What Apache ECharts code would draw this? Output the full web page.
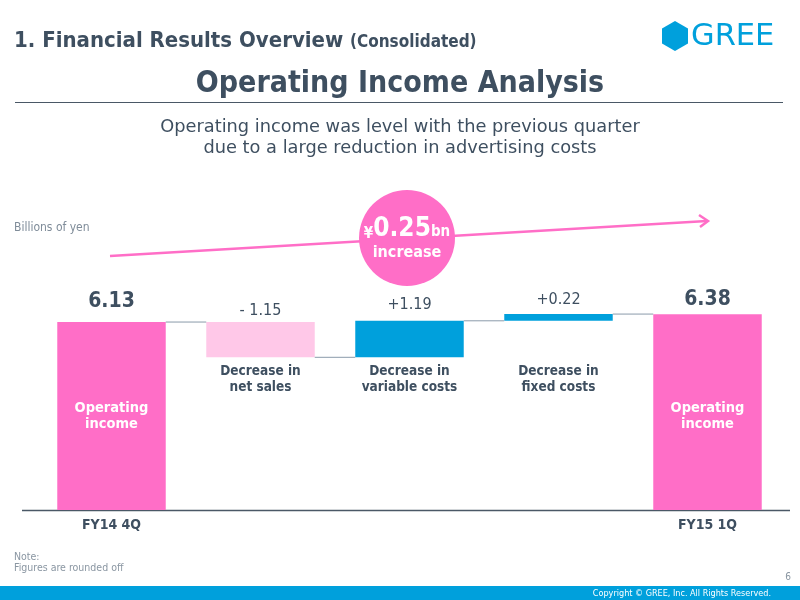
<!DOCTYPE html>
<html><head><meta charset="utf-8">
<script src="https://cdn.jsdelivr.net/npm/echarts@6/dist/echarts.min.js"></script>
<style>html,body{margin:0;padding:0;background:#fff}#c{width:800px;height:600px}</style>
</head><body><div id="c"></div>
<script>
// ---- data ----
const axisLabels = ['FY14 4Q', '', '', '', 'FY15 1Q'];
const stepNames = ['Operating\nincome', 'Decrease in\nnet sales', 'Decrease in\nvariable costs', 'Decrease in\nfixed costs', 'Operating\nincome'];
const changes = [6.13, -1.15, 1.19, 0.22, 6.38];
const isTotal = [true, false, false, false, true];
const valueLabels = ['6.13', '- 1.15', '+1.19', '+0.22', '6.38'];
const barColors = ['#FF6EC7', '#FFC8E8', '#00A0DC', '#00A0DC', '#FF6EC7'];

// ---- derived waterfall ----
const base = [], height = [], endLevel = [];
let level = 0;
changes.forEach((v, i) => {
  if (isTotal[i]) { base.push(0); height.push(v); level = v; }
  else {
    if (v < 0) { base.push(level + v); height.push(-v); }
    else { base.push(level); height.push(v); }
    level += v;
  }
  endLevel.push(level);
});
const connectorData = [0, 1, 2, 3].map(i => [i, endLevel[i]]);

const DARK = '#3E4F60';
const FONT = '"DejaVu Sans Condensed","DejaVu Sans",sans-serif';
const FONT2 = '"DejaVu Sans",sans-serif';
const BW = 0.728;
const labelDist = [10, 3, 8, 6, 4];
const innerLevel = 3.06, stepLevel = 4.27;

const chart = echarts.init(document.getElementById('c'));
chart.setOption({
  animation: false,
  grid: { left: 37, right: 18, top: 264.7, bottom: 90, containLabel: false },
  xAxis: {
    type: 'category', data: axisLabels,
    axisLine: { show: false }, axisTick: { show: false },
    axisLabel: { color: DARK, fontFamily: FONT, fontWeight: 'bold', fontSize: 14, margin: 8 }
  },
  yAxis: { type: 'value', min: 0, max: 8, show: false, splitLine: { show: false } },
  series: [
    { type: 'bar', stack: 'w', barWidth: (BW * 100) + '%', data: base,
      itemStyle: { color: 'transparent' }, silent: true },
    { type: 'bar', stack: 'w', barWidth: (BW * 100) + '%',
      data: height.map((h, i) => ({
        value: h,
        itemStyle: { color: barColors[i] },
        label: {
          show: true, position: 'top', distance: labelDist[i],
          formatter: valueLabels[i],
          color: DARK, fontFamily: FONT,
          fontSize: isTotal[i] ? 21 : 16,
          fontWeight: isTotal[i] ? 'bold' : 'normal'
        }
      }))
    },
    { type: 'custom', data: connectorData, silent: true, z: 5,
      renderItem: (params, api) => {
        const i = api.value(0), v = api.value(1);
        const bw = api.size([1, 0])[0] * BW;
        const p1 = api.coord([i, v]), p2 = api.coord([i + 1, v]);
        return { type: 'line', shape: { x1: p1[0] + bw / 2, y1: p1[1], x2: p2[0] - bw / 2, y2: p2[1] },
          style: { stroke: '#8A9AAA', lineWidth: 1 } };
      }
    },
    { type: 'custom', data: stepNames.map((s, i) => [i, isTotal[i] ? innerLevel : stepLevel]), silent: true, z: 10,
      renderItem: (params, api) => {
        const i = params.dataIndex;
        const p = api.coord([api.value(0), api.value(1)]);
        return { type: 'text', z2: 100, style: { text: stepNames[i], x: p[0], y: p[1],
          align: 'center', verticalAlign: 'middle', lineHeight: 16,
          fill: isTotal[i] ? '#FFFFFF' : DARK, font: 'bold ' + (isTotal[i] ? 14.5 : 13.5) + 'px ' + FONT } };
      }
    }
  ],
  graphic: [
    { type: 'text', style: { x: 14, y: 41, verticalAlign: 'middle',
        text: '{a|1. Financial Results Overview}  {b|(Consolidated)}',
        rich: { a: { fontFamily: FONT, fontWeight: 'bold', fontSize: 22, fill: DARK },
                b: { fontFamily: FONT, fontWeight: 'bold', fontSize: 17, fill: DARK, padding: [3, 0, 0, 0] } } } },
    { type: 'polygon', shape: { points: [[675, 21], [688, 28.5], [688, 43.5], [675, 51], [662, 43.5], [662, 28.5]] },
      style: { fill: '#00A0DC' } },
    { type: 'text', style: { x: 691, y: 37, verticalAlign: 'middle', text: 'GREE',
        font: '30.5px ' + FONT2, fill: '#00A0DC' } },
    { type: 'text', style: { x: 400, y: 84, align: 'center', verticalAlign: 'middle',
        text: 'Operating Income Analysis', font: 'bold 30px ' + FONT, fill: DARK } },
    { type: 'line', shape: { x1: 15, y1: 102.5, x2: 783, y2: 102.5 }, style: { stroke: '#4A5866', lineWidth: 1 } },
    { type: 'text', style: { x: 400, y: 138, align: 'center', verticalAlign: 'middle', lineHeight: 21,
        text: 'Operating income was level with the previous quarter\ndue to a large reduction in advertising costs',
        font: '17.8px ' + FONT2, fill: DARK } },
    { type: 'text', style: { x: 14, y: 228, verticalAlign: 'middle', text: 'Billions of yen',
        font: '12px ' + FONT, fill: '#7F8C99' } },
    { type: 'line', shape: { x1: 110, y1: 256, x2: 707, y2: 221 }, style: { stroke: '#FF6EC7', lineWidth: 2.5 } },
    { type: 'polyline', shape: { points: [[699, 215], [708, 221], [700, 227]] }, style: { stroke: '#FF6EC7', lineWidth: 2.5, fill: null } },
    { type: 'circle', shape: { cx: 407, cy: 238, r: 48 }, style: { fill: '#FF6EC7' } },
    { type: 'text', style: { x: 407, y: 240, align: 'center', verticalAlign: 'middle',
        text: '{a|¥}{b|0.25}{c|bn}\n{d|increase}',
        rich: { a: { fontFamily: FONT, fontWeight: 'bold', fontSize: 15, fill: '#fff', verticalAlign: 'bottom' },
                b: { fontFamily: FONT, fontWeight: 'bold', fontSize: 26, fill: '#fff' },
                c: { fontFamily: FONT, fontWeight: 'bold', fontSize: 15, fill: '#fff', padding: [6, 0, 0, 0] },
                d: { fontFamily: FONT, fontWeight: 'bold', fontSize: 16, fill: '#fff', lineHeight: 22 } } } },
    { type: 'line', shape: { x1: 22, y1: 510.5, x2: 790, y2: 510.5 }, style: { stroke: '#4A5866', lineWidth: 1.5 } },
    { type: 'text', style: { x: 14, y: 557, verticalAlign: 'middle', text: 'Note:', font: '10.5px ' + FONT, fill: '#8A96A2' } },
    { type: 'text', style: { x: 14, y: 568, verticalAlign: 'middle', text: 'Figures are rounded off', font: '10.5px ' + FONT, fill: '#8A96A2' } },
    { type: 'text', style: { x: 791, y: 577, align: 'right', verticalAlign: 'middle', text: '6', font: '10px ' + FONT, fill: '#8A96A2' } },
    { type: 'rect', shape: { x: 0, y: 586, width: 800, height: 14 }, style: { fill: '#00A0DC' } },
    { type: 'text', style: { x: 771, y: 593.5, align: 'right', verticalAlign: 'middle',
        text: 'Copyright © GREE, Inc. All Rights Reserved.', font: '9px ' + FONT, fill: '#FFFFFF' } }
  ]
});
</script></body></html>
